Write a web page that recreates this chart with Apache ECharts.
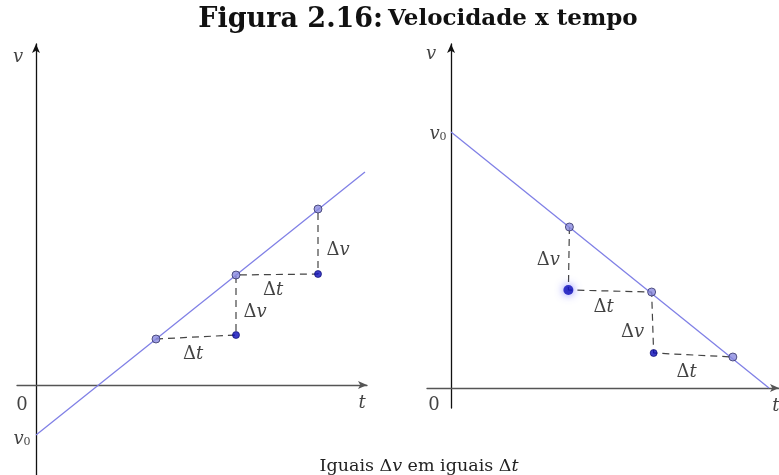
<!DOCTYPE html>
<html lang="pt">
<head>
<meta charset="UTF-8">
<title>Figura 2.16</title>
<script src="https://cdn.jsdelivr.net/npm/echarts@6/dist/echarts.min.js"></script>
</head>
<body style="margin:0">
<div id="chart" style="width:779px;height:475px;background:#fff"></div>
<script>
// painel esquerdo (v cresce com t), unidades arbitrarias
var lineLeft = [[0, -5], [32.9, 21.3]];
var onLineLeft = [[12, 4.6], [20, 11], [28.2, 17.6]];
var cornerLeft = [[20, 5], [28.2, 11.1]];
var stepsLeft = [[12, 4.6], [20, 5], [20, 11], [28.2, 11.1], [28.2, 17.6]];
var labelsLeft = [
    [-1.8, 33, '{i|v}'],
    [-1.4, -1.8, '{n|0}'],
    [-1.4, -5.2, '{i|v}{s|0}'],
    [32.6, -1.6, '{i|t}'],
    [15.7, 3.3, '{n|Δ}{i|t}'],
    [21.9, 7.5, '{n|Δ}{i|v}'],
    [23.7, 9.7, '{n|Δ}{i|t}'],
    [30.2, 13.7, '{n|Δ}{i|v}']
];

// painel direito (v decresce com t)
var lineRight = [[0, 25.6], [31.7, 0]];
var onLineRight = [[11.8, 16.1], [20, 9.6], [28.1, 3.1]];
var cornerRight = [[20.2, 3.5]];
var glowRight = [[11.7, 9.8]];
var stepsRight = [[11.8, 16.1], [11.7, 9.8], [20, 9.6], [20.2, 3.5], [28.1, 3.1]];
var labelsRight = [
    [-2.0, 33.6, '{i|v}'],
    [-1.3, 25.6, '{i|v}{s|0}'],
    [-1.7, -1.5, '{n|0}'],
    [32.4, -1.6, '{i|t}'],
    [9.7, 13, '{n|Δ}{i|v}'],
    [15.2, 8.3, '{n|Δ}{i|t}'],
    [18.1, 5.8, '{n|Δ}{i|v}'],
    [23.5, 1.8, '{n|Δ}{i|t}']
];

var serif = 'DejaVu Serif';
var rich = {
    n: { fontFamily: serif, fontSize: 18, color: '#111', lineHeight: 22, verticalAlign: 'bottom' },
    i: { fontFamily: serif, fontSize: 18, fontStyle: 'italic', color: '#111', lineHeight: 22, verticalAlign: 'bottom' },
    s: { fontFamily: serif, fontSize: 11, color: '#111', lineHeight: 18, verticalAlign: 'bottom' }
};

function axis(idx, min, max, color) {
    return {
        gridIndex: idx, type: 'value', min: min, max: max,
        axisLine: { onZero: true, symbol: ['none', 'arrow'], symbolSize: [6, 9], lineStyle: { color: color, width: 1.3 } },
        axisTick: { show: false }, axisLabel: { show: false }, splitLine: { show: false }
    };
}

function panel(idx, line, steps, onLine, corner, labels) {
    return [
        {
            type: 'line', xAxisIndex: idx, yAxisIndex: idx, data: line, symbol: 'none',
            lineStyle: { color: '#8080e6', width: 1.3 }, z: 2
        },
        {
            type: 'line', xAxisIndex: idx, yAxisIndex: idx, data: steps, symbol: 'none',
            lineStyle: { color: '#444', width: 1.2, type: [7, 5] }, z: 3
        },
        {
            type: 'scatter', xAxisIndex: idx, yAxisIndex: idx, data: onLine, symbolSize: 8,
            itemStyle: { color: '#8a8ade', borderColor: '#333366', borderWidth: 1 }, z: 5
        },
        {
            type: 'scatter', xAxisIndex: idx, yAxisIndex: idx, data: corner, symbolSize: 7,
            itemStyle: { color: '#0a0ab8', borderColor: '#05056a', borderWidth: 0.8 }, z: 5
        },
        {
            type: 'scatter', xAxisIndex: idx, yAxisIndex: idx, data: labels, symbolSize: 1,
            itemStyle: { color: 'rgba(0,0,0,0)' }, silent: true, z: 6,
            label: { show: true, position: 'inside', formatter: function (p) { return p.data[2]; }, rich: rich }
        }
    ];
}

var myChart = echarts.init(document.getElementById('chart'));
var series = panel(0, lineLeft, stepsLeft, onLineLeft, cornerLeft, labelsLeft)
    .concat(panel(1, lineRight, stepsRight, onLineRight, cornerRight, labelsRight));
series.push({
    type: 'scatter', xAxisIndex: 1, yAxisIndex: 1, data: glowRight, symbolSize: 10,
    itemStyle: { color: '#0a0ab8', shadowBlur: 8, shadowColor: '#5b5bff' }, z: 5
});

var option = {
    animation: false,
    backgroundColor: '#fff',
    title: [
        {
            text: '{a|Figura 2.16:} {b|Velocidade x tempo}',
            left: 413, textAlign: 'center', top: 1,
            textStyle: {
                rich: {
                    a: { fontFamily: serif, fontWeight: 'bold', fontSize: 27, color: '#111' },
                    b: { fontFamily: serif, fontWeight: 'bold', fontSize: 23, color: '#111' }
                }
            }
        },
        {
            text: '{n|Iguais Δ}{i|v}{n| em iguais Δ}{i|t}',
            left: 414, textAlign: 'center', top: 452,
            textStyle: {
                rich: {
                    n: { fontFamily: serif, fontWeight: 'normal', fontSize: 17.5, color: '#222' },
                    i: { fontFamily: serif, fontWeight: 'normal', fontSize: 17.5, fontStyle: 'italic', color: '#222' }
                }
            }
        }
    ],
    grid: [
        { left: 17, top: 44, width: 350, height: 431 },
        { left: 427, top: 44, width: 352, height: 364 }
    ],
    xAxis: [axis(0, -1.9, 33.1, '#555'), axis(1, -2.4, 32.7, '#555')],
    yAxis: [axis(0, -9, 34.1, '#111'), axis(1, -2, 34.4, '#111')],
    series: series
};
myChart.setOption(option);
</script>
</body>
</html>
